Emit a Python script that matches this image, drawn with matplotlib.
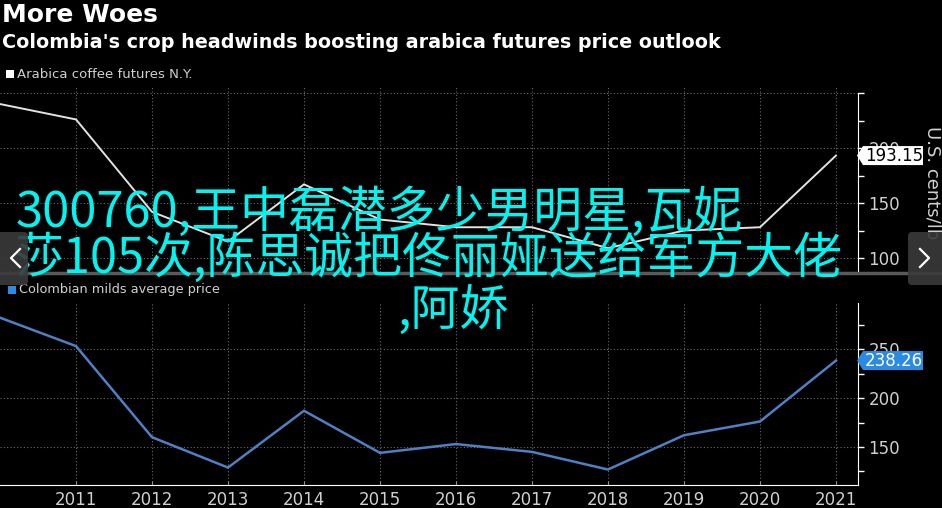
import matplotlib
matplotlib.use("Agg")
import matplotlib.pyplot as plt
from matplotlib.patches import Polygon, FancyBboxPatch, Rectangle
from matplotlib.lines import Line2D
from matplotlib.transforms import IdentityTransform

# data
years = list(range(2010, 2022))
arabica = [240, 226, 142, 115, 167, 135, 128, 128, 109, 125, 128, 193.15]
milds = [282, 253, 160, 129, 187, 144, 153, 145, 127, 162, 176, 238.26]
year_ticks = list(range(2011, 2022))
year_labels = [str(y) for y in year_ticks]
arabica_ticks = [100, 150, 200]
milds_ticks = [150, 200, 250]

title = "More Woes"
subtitle = "Colombia's crop headwinds boosting arabica futures price outlook"
overlay = ["300760,王中磊潜多少男明星,瓦妮", "莎105次,陈思诚把佟丽娅送给军方大佬", ",阿娇"]

W, H = 942, 508
GREY = "#d0d0d0"
BLUE = "#4f80c4"
TAG_BLUE = "#2b8be3"
NARROW = ["Liberation Sans Narrow", "DejaVu Sans"]

fig = plt.figure(figsize=(W / 100, H / 100), dpi=100, facecolor="black")
ident = IdentityTransform()


def px(x, y, w, h):
    return [x / W, 1 - (y + h) / H, w / W, h / H]


def style_axis(ax, ticks, minor, top):
    ax.set_facecolor("black")
    ax.set_xlim(2010, 2021.29)
    ax.set_xticks(year_ticks)
    ax.yaxis.tick_right()
    ax.set_yticks(ticks)
    ax.set_yticks(minor, minor=True)
    ax.tick_params(axis="y", which="both", direction="out", colors="white",
                   labelcolor=GREY, labelsize=12, length=4, width=1)
    for lab in ax.get_yticklabels():
        lab.set_family(NARROW)
    for s in ["top", "left"]:
        ax.spines[s].set_visible(False)
    ax.spines["right"].set_color("white")
    ax.spines["right"].set_bounds(ax.get_ylim()[0], top)
    ax.spines["bottom"].set_color("white")
    ax.grid(axis="x", color="#6a6a6a", ls=(0, (1, 2)), lw=0.8)
    ax.grid(axis="y", which="major", color="#6a6a6a", ls=(0, (1, 2)), lw=0.8)


def tag(ax, val, text, fc, tc):
    tx = ax.transData.transform((ax.get_xlim()[1], val))[0] - 1
    ty = ax.transData.transform((2015, val))[1]
    h = 19
    pts = [(tx, ty), (tx + 6, ty + h / 2), (tx + 66, ty + h / 2),
           (tx + 66, ty - h / 2), (tx + 6, ty - h / 2)]
    fig.add_artist(Polygon(pts, closed=True, fc=fc, ec="none", transform=ident, zorder=5))
    fig.text(tx + 8, ty, text, color=tc, fontsize=12, ha="left", va="center",
             family=NARROW, transform=ident, zorder=6)


# top panel
ax1 = fig.add_axes(px(0, 87, 858, 185))
ax1.plot(years, arabica, color="#e2e2e2", lw=1.4, clip_on=False)
ax1.set_ylim(87.3, 255.5)
style_axis(ax1, arabica_ticks + [250], [125, 175, 225], 250)
ax1.set_yticklabels([str(t) for t in arabica_ticks] + [""])
ax1.spines["bottom"].set_visible(False)
ax1.tick_params(axis="x", bottom=False, labelbottom=False)

# bottom panel
ax2 = fig.add_axes(px(0, 303, 858, 182))
ax2.plot(years, milds, color=BLUE, lw=1.8, clip_on=False)
ax2.set_ylim(111.2, 297)
style_axis(ax2, milds_ticks, [125, 175, 225, 275], 297)
ax2.set_xticklabels(year_labels, family=NARROW)
ax2.tick_params(axis="x", direction="in", length=3, colors="#888888",
                labelcolor=GREY, labelsize=12, pad=4)

tag(ax1, arabica[-1], f"{arabica[-1]:.2f}", "white", "black")
tag(ax2, milds[-1], f"{milds[-1]:.2f}", TAG_BLUE, "white")

# titles and legends
fig.text(2, H - 15, title, color="white", fontsize=18, weight="bold", va="center",
         transform=ident)
fig.text(2, H - 43, subtitle, color="white", fontsize=13.8, weight="bold", va="center",
         transform=ident)
fig.add_artist(Rectangle((6, H - 78), 8, 8, fc="white", ec="none", transform=ident))
fig.text(17, H - 74, "Arabica coffee futures N.Y.", color=GREY, fontsize=9.5,
         va="center", family=NARROW, transform=ident)
fig.add_artist(Rectangle((8, H - 294), 8, 8, fc=TAG_BLUE, ec="none", transform=ident))
fig.text(19, H - 290, "Colombian milds average price", color=GREY, fontsize=9.3,
         va="center", family=NARROW, transform=ident)
fig.text(932, H - 183, "U.S. cents/lb", color=GREY, fontsize=13, rotation=270,
         ha="center", va="center", transform=ident)

# separator between panels
fig.add_artist(Line2D([0, W], [H - 273, H - 273], color="#5a5a5a", lw=2.5, transform=ident))

# overlaid caption
cjk = ["Noto Sans CJK SC", "DejaVu Sans"]
fig.text(16, H - 213, overlay[0], color="#00f5f0", fontsize=35.2, family=cjk,
         va="center", transform=ident, zorder=7)
fig.text(14, H - 259, overlay[1], color="#00f5f0", fontsize=35.2, family=cjk,
         va="center", transform=ident, zorder=7)
fig.text(397, H - 311, overlay[2], color="#00f5f0", fontsize=35.2, family=cjk,
         va="center", transform=ident, zorder=7)

# carousel buttons
for x0, x1, chev in [(-10, 28, [(20, 9), (11, 0), (20, -9)]),
                     (908, 952, [(920, 9), (929, 0), (920, -9)])]:
    fig.add_artist(FancyBboxPatch((x0, H - 285), x1 - x0, 53,
                                  boxstyle="round,pad=0,rounding_size=4",
                                  fc="#3a3a3a", ec="none", alpha=0.9,
                                  transform=ident, zorder=8))
    cy = H - 258
    fig.add_artist(Line2D([p[0] for p in chev], [cy + p[1] for p in chev],
                          color="white", lw=1.6, transform=ident, zorder=9))

fig.savefig("out.png", dpi=100, facecolor="black")
